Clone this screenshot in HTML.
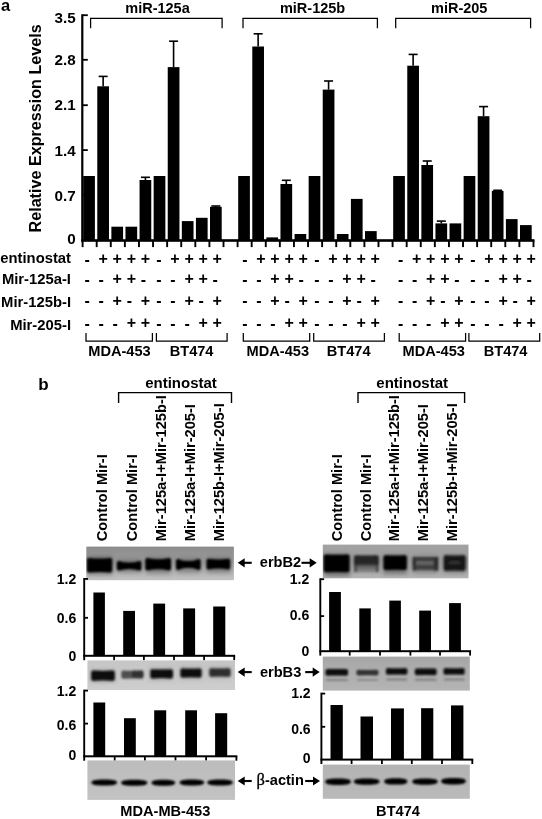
<!DOCTYPE html>
<html><head><meta charset="utf-8"><title>Figure</title>
<style>html,body{margin:0;padding:0;background:#fff}svg{display:block}text{font-family:"Liberation Sans",sans-serif;font-weight:bold;fill:#000}</style>
</head><body>
<svg width="542" height="819" viewBox="0 0 542 819">
<rect width="542" height="819" fill="#fff"/>
<text x="0.9" y="10.9" font-size="16.5" text-anchor="start" >a</text>
<text transform="translate(40.6,128.4) rotate(-90)" font-size="16.15" text-anchor="middle">Relative Expression Levels</text>
<rect x="81.20" y="14.30" width="2.20" height="227.30" fill="#000" />
<rect x="82.30" y="14.30" width="5.50" height="1.80" fill="#000" />
<text x="75.6" y="22.6" font-size="15.2" text-anchor="end" >3.5</text>
<rect x="82.30" y="58.90" width="5.50" height="1.80" fill="#000" />
<text x="75.6" y="64.5" font-size="15.2" text-anchor="end" >2.8</text>
<rect x="82.30" y="104.30" width="5.50" height="1.80" fill="#000" />
<text x="75.6" y="110.0" font-size="15.2" text-anchor="end" >2.1</text>
<rect x="82.30" y="149.20" width="5.50" height="1.80" fill="#000" />
<text x="75.6" y="155.7" font-size="15.2" text-anchor="end" >1.4</text>
<rect x="82.30" y="193.70" width="5.50" height="1.80" fill="#000" />
<text x="75.6" y="201.3" font-size="15.2" text-anchor="end" >0.7</text>
<text x="75.6" y="243.9" font-size="15.2" text-anchor="end" >0</text>
<rect x="81.20" y="239.20" width="453.28" height="2.60" fill="#000" />
<rect x="81.65" y="240.50" width="1.90" height="6.60" fill="#000" />
<rect x="95.74" y="240.50" width="1.90" height="6.60" fill="#000" />
<rect x="109.83" y="240.50" width="1.90" height="6.60" fill="#000" />
<rect x="123.92" y="240.50" width="1.90" height="6.60" fill="#000" />
<rect x="138.01" y="240.50" width="1.90" height="6.60" fill="#000" />
<rect x="152.10" y="240.50" width="1.90" height="6.60" fill="#000" />
<rect x="166.19" y="240.50" width="1.90" height="6.60" fill="#000" />
<rect x="180.28" y="240.50" width="1.90" height="6.60" fill="#000" />
<rect x="194.37" y="240.50" width="1.90" height="6.60" fill="#000" />
<rect x="208.46" y="240.50" width="1.90" height="6.60" fill="#000" />
<rect x="222.55" y="240.50" width="1.90" height="6.60" fill="#000" />
<rect x="236.64" y="240.50" width="1.90" height="6.60" fill="#000" />
<rect x="250.73" y="240.50" width="1.90" height="6.60" fill="#000" />
<rect x="264.82" y="240.50" width="1.90" height="6.60" fill="#000" />
<rect x="278.91" y="240.50" width="1.90" height="6.60" fill="#000" />
<rect x="293.00" y="240.50" width="1.90" height="6.60" fill="#000" />
<rect x="307.09" y="240.50" width="1.90" height="6.60" fill="#000" />
<rect x="321.18" y="240.50" width="1.90" height="6.60" fill="#000" />
<rect x="335.27" y="240.50" width="1.90" height="6.60" fill="#000" />
<rect x="349.36" y="240.50" width="1.90" height="6.60" fill="#000" />
<rect x="363.45" y="240.50" width="1.90" height="6.60" fill="#000" />
<rect x="377.54" y="240.50" width="1.90" height="6.60" fill="#000" />
<rect x="391.63" y="240.50" width="1.90" height="6.60" fill="#000" />
<rect x="405.72" y="240.50" width="1.90" height="6.60" fill="#000" />
<rect x="419.81" y="240.50" width="1.90" height="6.60" fill="#000" />
<rect x="433.90" y="240.50" width="1.90" height="6.60" fill="#000" />
<rect x="447.99" y="240.50" width="1.90" height="6.60" fill="#000" />
<rect x="462.08" y="240.50" width="1.90" height="6.60" fill="#000" />
<rect x="476.17" y="240.50" width="1.90" height="6.60" fill="#000" />
<rect x="490.26" y="240.50" width="1.90" height="6.60" fill="#000" />
<rect x="504.35" y="240.50" width="1.90" height="6.60" fill="#000" />
<rect x="518.44" y="240.50" width="1.90" height="6.60" fill="#000" />
<rect x="532.53" y="240.50" width="1.90" height="6.60" fill="#000" />
<rect x="83.20" y="176.00" width="11.70" height="64.50" fill="#000" />
<rect x="97.29" y="86.30" width="11.70" height="154.20" fill="#000" />
<rect x="102.34" y="76.40" width="1.60" height="9.90" fill="#000" />
<rect x="98.64" y="75.60" width="9.00" height="1.60" fill="#000" />
<rect x="111.38" y="226.70" width="11.70" height="13.80" fill="#000" />
<rect x="125.47" y="226.70" width="11.70" height="13.80" fill="#000" />
<rect x="139.56" y="180.00" width="11.70" height="60.50" fill="#000" />
<rect x="144.61" y="177.30" width="1.60" height="2.70" fill="#000" />
<rect x="140.91" y="176.50" width="9.00" height="1.60" fill="#000" />
<rect x="153.65" y="176.00" width="11.70" height="64.50" fill="#000" />
<rect x="167.74" y="67.10" width="11.70" height="173.40" fill="#000" />
<rect x="172.79" y="41.20" width="1.60" height="25.90" fill="#000" />
<rect x="169.09" y="40.40" width="9.00" height="1.60" fill="#000" />
<rect x="181.83" y="221.10" width="11.70" height="19.40" fill="#000" />
<rect x="195.92" y="217.80" width="11.70" height="22.70" fill="#000" />
<rect x="210.01" y="206.80" width="11.70" height="33.70" fill="#000" />
<rect x="215.06" y="206.00" width="1.60" height="0.80" fill="#000" />
<rect x="211.36" y="205.20" width="9.00" height="1.60" fill="#000" />
<rect x="238.19" y="176.00" width="11.70" height="64.50" fill="#000" />
<rect x="252.28" y="46.50" width="11.70" height="194.00" fill="#000" />
<rect x="257.33" y="33.80" width="1.60" height="12.70" fill="#000" />
<rect x="253.63" y="33.00" width="9.00" height="1.60" fill="#000" />
<rect x="266.37" y="237.40" width="11.70" height="3.10" fill="#000" />
<rect x="280.46" y="184.00" width="11.70" height="56.50" fill="#000" />
<rect x="285.51" y="180.30" width="1.60" height="3.70" fill="#000" />
<rect x="281.81" y="179.50" width="9.00" height="1.60" fill="#000" />
<rect x="294.55" y="234.00" width="11.70" height="6.50" fill="#000" />
<rect x="308.64" y="176.00" width="11.70" height="64.50" fill="#000" />
<rect x="322.73" y="89.60" width="11.70" height="150.90" fill="#000" />
<rect x="327.78" y="81.00" width="1.60" height="8.60" fill="#000" />
<rect x="324.08" y="80.20" width="9.00" height="1.60" fill="#000" />
<rect x="336.82" y="234.00" width="11.70" height="6.50" fill="#000" />
<rect x="350.91" y="198.90" width="11.70" height="41.60" fill="#000" />
<rect x="365.00" y="231.10" width="11.70" height="9.40" fill="#000" />
<rect x="393.18" y="176.00" width="11.70" height="64.50" fill="#000" />
<rect x="407.27" y="65.70" width="11.70" height="174.80" fill="#000" />
<rect x="412.32" y="54.40" width="1.60" height="11.30" fill="#000" />
<rect x="408.62" y="53.60" width="9.00" height="1.60" fill="#000" />
<rect x="421.36" y="165.00" width="11.70" height="75.50" fill="#000" />
<rect x="426.41" y="161.00" width="1.60" height="4.00" fill="#000" />
<rect x="422.71" y="160.20" width="9.00" height="1.60" fill="#000" />
<rect x="435.45" y="223.40" width="11.70" height="17.10" fill="#000" />
<rect x="440.50" y="221.10" width="1.60" height="2.30" fill="#000" />
<rect x="436.80" y="220.30" width="9.00" height="1.60" fill="#000" />
<rect x="449.54" y="223.40" width="11.70" height="17.10" fill="#000" />
<rect x="463.63" y="176.00" width="11.70" height="64.50" fill="#000" />
<rect x="477.72" y="116.20" width="11.70" height="124.30" fill="#000" />
<rect x="482.77" y="106.60" width="1.60" height="9.60" fill="#000" />
<rect x="479.07" y="105.80" width="9.00" height="1.60" fill="#000" />
<rect x="491.81" y="190.90" width="11.70" height="49.60" fill="#000" />
<rect x="496.86" y="190.30" width="1.60" height="0.60" fill="#000" />
<rect x="493.16" y="189.50" width="9.00" height="1.60" fill="#000" />
<rect x="505.90" y="219.10" width="11.70" height="21.40" fill="#000" />
<rect x="519.99" y="225.10" width="11.70" height="15.40" fill="#000" />
<polyline points="90.60,28.30 90.60,18.30 222.10,18.30 222.10,28.30" fill="none" stroke="#000" stroke-width="1.25"/>
<text x="157.5" y="13.3" font-size="14.5" text-anchor="middle" >miR-125a</text>
<polyline points="243.00,28.30 243.00,18.30 377.40,18.30 377.40,28.30" fill="none" stroke="#000" stroke-width="1.25"/>
<text x="312.6" y="13.3" font-size="14.5" text-anchor="middle" >miR-125b</text>
<polyline points="395.70,28.30 395.70,18.30 530.60,18.30 530.60,28.30" fill="none" stroke="#000" stroke-width="1.25"/>
<text x="459.2" y="13.3" font-size="14.5" text-anchor="middle" >miR-205</text>
<text x="71" y="263.1" font-size="14.8" text-anchor="end" >entinostat</text>
<text x="84.40" y="264.9" font-size="16" text-anchor="start" >-</text>
<text x="98.49" y="264.29999999999995" font-size="16" text-anchor="start" >+</text>
<text x="112.58" y="264.29999999999995" font-size="16" text-anchor="start" >+</text>
<text x="126.67" y="264.29999999999995" font-size="16" text-anchor="start" >+</text>
<text x="140.76" y="264.29999999999995" font-size="16" text-anchor="start" >+</text>
<text x="156.25" y="264.9" font-size="16" text-anchor="start" >-</text>
<text x="170.34" y="264.29999999999995" font-size="16" text-anchor="start" >+</text>
<text x="184.43" y="264.29999999999995" font-size="16" text-anchor="start" >+</text>
<text x="198.52" y="264.29999999999995" font-size="16" text-anchor="start" >+</text>
<text x="212.61" y="264.29999999999995" font-size="16" text-anchor="start" >+</text>
<text x="242.19" y="264.9" font-size="16" text-anchor="start" >-</text>
<text x="256.28" y="264.29999999999995" font-size="16" text-anchor="start" >+</text>
<text x="270.37" y="264.29999999999995" font-size="16" text-anchor="start" >+</text>
<text x="284.46" y="264.29999999999995" font-size="16" text-anchor="start" >+</text>
<text x="298.55" y="264.29999999999995" font-size="16" text-anchor="start" >+</text>
<text x="314.14" y="264.9" font-size="16" text-anchor="start" >-</text>
<text x="328.23" y="264.29999999999995" font-size="16" text-anchor="start" >+</text>
<text x="342.32" y="264.29999999999995" font-size="16" text-anchor="start" >+</text>
<text x="356.41" y="264.29999999999995" font-size="16" text-anchor="start" >+</text>
<text x="370.50" y="264.29999999999995" font-size="16" text-anchor="start" >+</text>
<text x="397.88" y="264.9" font-size="16" text-anchor="start" >-</text>
<text x="411.97" y="264.29999999999995" font-size="16" text-anchor="start" >+</text>
<text x="426.06" y="264.29999999999995" font-size="16" text-anchor="start" >+</text>
<text x="440.15" y="264.29999999999995" font-size="16" text-anchor="start" >+</text>
<text x="454.24" y="264.29999999999995" font-size="16" text-anchor="start" >+</text>
<text x="470.23" y="264.9" font-size="16" text-anchor="start" >-</text>
<text x="484.32" y="264.29999999999995" font-size="16" text-anchor="start" >+</text>
<text x="498.41" y="264.29999999999995" font-size="16" text-anchor="start" >+</text>
<text x="512.50" y="264.29999999999995" font-size="16" text-anchor="start" >+</text>
<text x="526.59" y="264.29999999999995" font-size="16" text-anchor="start" >+</text>
<text x="71" y="284.4" font-size="14.8" text-anchor="end" >Mir-125a-I</text>
<text x="84.40" y="285.0" font-size="16" text-anchor="start" >-</text>
<text x="98.49" y="285.0" font-size="16" text-anchor="start" >-</text>
<text x="112.58" y="284.4" font-size="16" text-anchor="start" >+</text>
<text x="126.67" y="284.4" font-size="16" text-anchor="start" >+</text>
<text x="140.76" y="285.0" font-size="16" text-anchor="start" >-</text>
<text x="156.25" y="285.0" font-size="16" text-anchor="start" >-</text>
<text x="170.34" y="285.0" font-size="16" text-anchor="start" >-</text>
<text x="184.43" y="284.4" font-size="16" text-anchor="start" >+</text>
<text x="198.52" y="284.4" font-size="16" text-anchor="start" >+</text>
<text x="212.61" y="285.0" font-size="16" text-anchor="start" >-</text>
<text x="242.19" y="285.0" font-size="16" text-anchor="start" >-</text>
<text x="256.28" y="285.0" font-size="16" text-anchor="start" >-</text>
<text x="270.37" y="284.4" font-size="16" text-anchor="start" >+</text>
<text x="284.46" y="284.4" font-size="16" text-anchor="start" >+</text>
<text x="298.55" y="285.0" font-size="16" text-anchor="start" >-</text>
<text x="314.14" y="285.0" font-size="16" text-anchor="start" >-</text>
<text x="328.23" y="285.0" font-size="16" text-anchor="start" >-</text>
<text x="342.32" y="284.4" font-size="16" text-anchor="start" >+</text>
<text x="356.41" y="284.4" font-size="16" text-anchor="start" >+</text>
<text x="370.50" y="285.0" font-size="16" text-anchor="start" >-</text>
<text x="397.88" y="285.0" font-size="16" text-anchor="start" >-</text>
<text x="411.97" y="285.0" font-size="16" text-anchor="start" >-</text>
<text x="426.06" y="284.4" font-size="16" text-anchor="start" >+</text>
<text x="440.15" y="284.4" font-size="16" text-anchor="start" >+</text>
<text x="454.24" y="285.0" font-size="16" text-anchor="start" >-</text>
<text x="470.23" y="285.0" font-size="16" text-anchor="start" >-</text>
<text x="484.32" y="285.0" font-size="16" text-anchor="start" >-</text>
<text x="498.41" y="284.4" font-size="16" text-anchor="start" >+</text>
<text x="512.50" y="284.4" font-size="16" text-anchor="start" >+</text>
<text x="526.59" y="285.0" font-size="16" text-anchor="start" >-</text>
<text x="71" y="307.2" font-size="14.8" text-anchor="end" >Mir-125b-I</text>
<text x="84.40" y="306.3" font-size="16" text-anchor="start" >-</text>
<text x="98.49" y="306.3" font-size="16" text-anchor="start" >-</text>
<text x="112.58" y="305.7" font-size="16" text-anchor="start" >+</text>
<text x="126.67" y="306.3" font-size="16" text-anchor="start" >-</text>
<text x="140.76" y="305.7" font-size="16" text-anchor="start" >+</text>
<text x="156.25" y="306.3" font-size="16" text-anchor="start" >-</text>
<text x="170.34" y="306.3" font-size="16" text-anchor="start" >-</text>
<text x="184.43" y="305.7" font-size="16" text-anchor="start" >+</text>
<text x="198.52" y="306.3" font-size="16" text-anchor="start" >-</text>
<text x="212.61" y="305.7" font-size="16" text-anchor="start" >+</text>
<text x="242.19" y="306.3" font-size="16" text-anchor="start" >-</text>
<text x="256.28" y="306.3" font-size="16" text-anchor="start" >-</text>
<text x="270.37" y="305.7" font-size="16" text-anchor="start" >+</text>
<text x="284.46" y="306.3" font-size="16" text-anchor="start" >-</text>
<text x="298.55" y="305.7" font-size="16" text-anchor="start" >+</text>
<text x="314.14" y="306.3" font-size="16" text-anchor="start" >-</text>
<text x="328.23" y="306.3" font-size="16" text-anchor="start" >-</text>
<text x="342.32" y="305.7" font-size="16" text-anchor="start" >+</text>
<text x="356.41" y="306.3" font-size="16" text-anchor="start" >-</text>
<text x="370.50" y="305.7" font-size="16" text-anchor="start" >+</text>
<text x="397.88" y="306.3" font-size="16" text-anchor="start" >-</text>
<text x="411.97" y="306.3" font-size="16" text-anchor="start" >-</text>
<text x="426.06" y="305.7" font-size="16" text-anchor="start" >+</text>
<text x="440.15" y="306.3" font-size="16" text-anchor="start" >-</text>
<text x="454.24" y="305.7" font-size="16" text-anchor="start" >+</text>
<text x="470.23" y="306.3" font-size="16" text-anchor="start" >-</text>
<text x="484.32" y="306.3" font-size="16" text-anchor="start" >-</text>
<text x="498.41" y="305.7" font-size="16" text-anchor="start" >+</text>
<text x="512.50" y="306.3" font-size="16" text-anchor="start" >-</text>
<text x="526.59" y="305.7" font-size="16" text-anchor="start" >+</text>
<text x="71" y="329.6" font-size="14.8" text-anchor="end" >Mir-205-I</text>
<text x="84.40" y="328.9" font-size="16" text-anchor="start" >-</text>
<text x="98.49" y="328.9" font-size="16" text-anchor="start" >-</text>
<text x="112.58" y="328.9" font-size="16" text-anchor="start" >-</text>
<text x="126.67" y="328.29999999999995" font-size="16" text-anchor="start" >+</text>
<text x="140.76" y="328.29999999999995" font-size="16" text-anchor="start" >+</text>
<text x="156.25" y="328.9" font-size="16" text-anchor="start" >-</text>
<text x="170.34" y="328.9" font-size="16" text-anchor="start" >-</text>
<text x="184.43" y="328.9" font-size="16" text-anchor="start" >-</text>
<text x="198.52" y="328.29999999999995" font-size="16" text-anchor="start" >+</text>
<text x="212.61" y="328.29999999999995" font-size="16" text-anchor="start" >+</text>
<text x="242.19" y="328.9" font-size="16" text-anchor="start" >-</text>
<text x="256.28" y="328.9" font-size="16" text-anchor="start" >-</text>
<text x="270.37" y="328.9" font-size="16" text-anchor="start" >-</text>
<text x="284.46" y="328.29999999999995" font-size="16" text-anchor="start" >+</text>
<text x="298.55" y="328.29999999999995" font-size="16" text-anchor="start" >+</text>
<text x="314.14" y="328.9" font-size="16" text-anchor="start" >-</text>
<text x="328.23" y="328.9" font-size="16" text-anchor="start" >-</text>
<text x="342.32" y="328.9" font-size="16" text-anchor="start" >-</text>
<text x="356.41" y="328.29999999999995" font-size="16" text-anchor="start" >+</text>
<text x="370.50" y="328.29999999999995" font-size="16" text-anchor="start" >+</text>
<text x="397.88" y="328.9" font-size="16" text-anchor="start" >-</text>
<text x="411.97" y="328.9" font-size="16" text-anchor="start" >-</text>
<text x="426.06" y="328.9" font-size="16" text-anchor="start" >-</text>
<text x="440.15" y="328.29999999999995" font-size="16" text-anchor="start" >+</text>
<text x="454.24" y="328.29999999999995" font-size="16" text-anchor="start" >+</text>
<text x="470.23" y="328.9" font-size="16" text-anchor="start" >-</text>
<text x="484.32" y="328.9" font-size="16" text-anchor="start" >-</text>
<text x="498.41" y="328.9" font-size="16" text-anchor="start" >-</text>
<text x="512.50" y="328.29999999999995" font-size="16" text-anchor="start" >+</text>
<text x="526.59" y="328.29999999999995" font-size="16" text-anchor="start" >+</text>
<polyline points="86.00,333.00 86.00,341.00 152.40,341.00 152.40,333.00" fill="none" stroke="#000" stroke-width="1.25"/>
<polyline points="156.40,333.00 156.40,341.00 227.10,341.00 227.10,333.00" fill="none" stroke="#000" stroke-width="1.25"/>
<text x="119.5" y="355.6" font-size="14.6" text-anchor="middle" >MDA-453</text>
<text x="191.6" y="355.6" font-size="14.6" text-anchor="middle" >BT474</text>
<polyline points="243.30,333.00 243.30,341.00 309.70,341.00 309.70,333.00" fill="none" stroke="#000" stroke-width="1.25"/>
<polyline points="313.70,333.00 313.70,341.00 384.40,341.00 384.40,333.00" fill="none" stroke="#000" stroke-width="1.25"/>
<text x="277.8" y="355.6" font-size="14.6" text-anchor="middle" >MDA-453</text>
<text x="348.7" y="355.6" font-size="14.6" text-anchor="middle" >BT474</text>
<polyline points="399.20,333.00 399.20,341.00 465.60,341.00 465.60,333.00" fill="none" stroke="#000" stroke-width="1.25"/>
<polyline points="468.90,333.00 468.90,341.00 539.70,341.00 539.70,333.00" fill="none" stroke="#000" stroke-width="1.25"/>
<text x="433.7" y="355.6" font-size="14.6" text-anchor="middle" >MDA-453</text>
<text x="505.6" y="355.6" font-size="14.6" text-anchor="middle" >BT474</text>
<text x="38.2" y="389.9" font-size="17" text-anchor="start" >b</text>
<defs><filter id="blur" x="-20%" y="-60%" width="140%" height="220%"><feGaussianBlur stdDeviation="1.2"/></filter><filter id="blur2" x="-20%" y="-60%" width="140%" height="220%"><feGaussianBlur stdDeviation="0.85"/></filter><filter id="blur3" x="-30%" y="-80%" width="160%" height="260%"><feGaussianBlur stdDeviation="2.2"/></filter></defs>
<text transform="translate(107.3,541.2) rotate(-90)" font-size="14.65">Control Mir-I</text>
<text transform="translate(137.4,541.2) rotate(-90)" font-size="14.65">Control Mir-I</text>
<text transform="translate(165.6,541.2) rotate(-90)" font-size="14.65">Mir-125a-I+Mir-125b-I</text>
<text transform="translate(195.4,541.2) rotate(-90)" font-size="14.65">Mir-125a-I+Mir-205-I</text>
<text transform="translate(224.3,541.2) rotate(-90)" font-size="14.65">Mir-125b-I+Mir-205-I</text>
<text x="181" y="387.9" font-size="15" text-anchor="middle" >entinostat</text>
<polyline points="118.60,402.90 118.60,392.60 231.50,392.60 231.50,402.90" fill="none" stroke="#000" stroke-width="1.4"/>
<defs><linearGradient id="bgl1" x1="0" y1="0" x2="0" y2="1"><stop offset="0" stop-color="#8c8c8c"/><stop offset="0.45" stop-color="#9c9c9c"/><stop offset="0.8" stop-color="#bababa"/><stop offset="1" stop-color="#c2c2c2"/></linearGradient><clipPath id="cpl1"><rect x="86.3" y="546.6" width="147.6" height="33.6"/></clipPath></defs>
<rect x="86.30" y="546.60" width="147.60" height="33.60" fill="url(#bgl1)" />
<g clip-path="url(#cpl1)">
<g filter="url(#blur3)">
<rect x="87.0" y="556.0" width="26.0" height="19.0" fill="#555" opacity="0.55"/>
<rect x="117.0" y="559.0" width="25.0" height="14.0" fill="#555" opacity="0.45"/>
<rect x="146.0" y="557.0" width="25.0" height="17.0" fill="#555" opacity="0.5"/>
<rect x="176.0" y="558.0" width="25.0" height="15.0" fill="#555" opacity="0.45"/>
<rect x="206.5" y="557.0" width="24.5" height="16.0" fill="#555" opacity="0.5"/>
</g>
<g filter="url(#blur)">
<path d="M88.9,558.0 Q99.6,559.2 110.2,558.0 Q112.2,558.0 112.2,560.0 L112.2,570.6 Q112.2,572.6 110.2,572.6 Q99.6,571.4 88.9,572.6 Q86.9,572.6 86.9,570.6 L86.9,560.0 Q86.9,558.0 88.9,558.0Z" fill="#000" opacity="1"/>
<path d="M118.8,561.0 Q129.1,564.0 139.4,561.0 Q141.4,561.0 141.4,563.0 L141.4,568.6 Q141.4,570.6 139.4,570.6 Q129.1,567.6 118.8,570.6 Q116.8,570.6 116.8,568.6 L116.8,563.0 Q116.8,561.0 118.8,561.0Z" fill="#000" opacity="1"/>
<path d="M147.3,558.1 Q158.2,560.5 169.0,558.1 Q171.0,558.1 171.0,560.1 L171.0,568.5 Q171.0,570.5 169.0,570.5 Q158.2,568.1 147.3,570.5 Q145.3,570.5 145.3,568.5 L145.3,560.1 Q145.3,558.1 147.3,558.1Z" fill="#000" opacity="1"/>
<path d="M178.0,558.9 Q188.3,563.3 198.6,558.9 Q200.6,558.9 200.6,560.9 L200.6,567.9 Q200.6,569.9 198.6,569.9 Q188.3,565.5 178.0,569.9 Q176.0,569.9 176.0,567.9 L176.0,560.9 Q176.0,558.9 178.0,558.9Z" fill="#000" opacity="1"/>
<path d="M208.5,558.8 Q218.3,560.4 228.2,558.8 Q230.2,558.8 230.2,560.8 L230.2,567.4 Q230.2,569.4 228.2,569.4 Q218.3,567.8 208.5,569.4 Q206.5,569.4 206.5,567.4 L206.5,560.8 Q206.5,558.8 208.5,558.8Z" fill="#000" opacity="1"/>
</g>
</g>
<rect x="83.25" y="578.00" width="1.90" height="82.20" fill="#000" />
<rect x="83.25" y="654.80" width="151.90" height="2.00" fill="#000" />
<rect x="84.20" y="578.00" width="3.80" height="1.80" fill="#000" />
<rect x="84.20" y="616.90" width="3.80" height="1.80" fill="#000" />
<rect x="113.20" y="655.80" width="1.80" height="4.40" fill="#000" />
<rect x="143.00" y="655.80" width="1.80" height="4.40" fill="#000" />
<rect x="173.10" y="655.80" width="1.80" height="4.40" fill="#000" />
<rect x="203.20" y="655.80" width="1.80" height="4.40" fill="#000" />
<rect x="233.30" y="655.80" width="1.80" height="4.40" fill="#000" />
<text x="76.3" y="583.9" font-size="14" text-anchor="end" >1.2</text>
<text x="76.3" y="623.0" font-size="14" text-anchor="end" >0.6</text>
<text x="76.3" y="660.7" font-size="14" text-anchor="end" >0</text>
<rect x="93.40" y="592.50" width="11.50" height="63.30" fill="#000" />
<rect x="123.20" y="610.90" width="11.80" height="44.90" fill="#000" />
<rect x="153.30" y="603.60" width="11.80" height="52.20" fill="#000" />
<rect x="183.20" y="608.40" width="11.90" height="47.40" fill="#000" />
<rect x="213.20" y="606.50" width="12.10" height="49.30" fill="#000" />
<defs><linearGradient id="bgl2" x1="0" y1="0" x2="0" y2="1"><stop offset="0" stop-color="#c6c6c6"/><stop offset="1" stop-color="#cecece"/></linearGradient><clipPath id="cpl2"><rect x="87.4" y="660.4" width="147.6" height="29.6"/></clipPath></defs>
<rect x="87.40" y="660.40" width="147.60" height="29.60" fill="url(#bgl2)" />
<g clip-path="url(#cpl2)">
<g filter="url(#blur3)">
<rect x="91.0" y="670.0" width="24.0" height="12.0" fill="#666" opacity="0.4"/>
<rect x="150.0" y="668.0" width="23.0" height="12.0" fill="#666" opacity="0.35"/>
<rect x="180.0" y="667.0" width="22.0" height="12.0" fill="#666" opacity="0.35"/>
<rect x="209.0" y="667.0" width="22.0" height="11.0" fill="#666" opacity="0.3"/>
</g>
<g filter="url(#blur)">
<path d="M93.2,670.5 Q103.0,671.3 112.8,670.5 Q114.8,670.5 114.8,672.5 L114.8,678.7 Q114.8,680.7 112.8,680.7 Q103.0,679.9 93.2,680.7 Q91.2,680.7 91.2,678.7 L91.2,672.5 Q91.2,670.5 93.2,670.5Z" fill="#0a0a0a" opacity="1"/>
<path d="M123.3,670.4 Q132.4,671.0 141.5,670.4 Q143.5,670.4 143.5,672.4 L143.5,676.8 Q143.5,678.8 141.5,678.8 Q132.4,678.2 123.3,678.8 Q121.3,678.8 121.3,676.8 L121.3,672.4 Q121.3,670.4 123.3,670.4Z" fill="#3a3a3a" opacity="0.85"/>
<path d="M134.0,670.3 Q137.8,670.7 141.5,670.3 Q143.5,670.3 143.5,672.3 L143.5,675.7 Q143.5,677.7 141.5,677.7 Q137.8,677.3 134.0,677.7 Q132.0,677.7 132.0,675.7 L132.0,672.3 Q132.0,670.3 134.0,670.3Z" fill="#222" opacity="0.6"/>
<path d="M152.3,669.2 Q161.7,669.8 171.0,669.2 Q173.0,669.2 173.0,671.2 L173.0,676.4 Q173.0,678.4 171.0,678.4 Q161.7,677.8 152.3,678.4 Q150.3,678.4 150.3,676.4 L150.3,671.2 Q150.3,669.2 152.3,669.2Z" fill="#0c0c0c" opacity="1"/>
<path d="M182.4,668.4 Q191.0,669.0 199.6,668.4 Q201.6,668.4 201.6,670.4 L201.6,675.6 Q201.6,677.6 199.6,677.6 Q191.0,677.0 182.4,677.6 Q180.4,677.6 180.4,675.6 L180.4,670.4 Q180.4,668.4 182.4,668.4Z" fill="#0c0c0c" opacity="1"/>
<path d="M211.3,668.3 Q219.9,668.9 228.6,668.3 Q230.6,668.3 230.6,670.3 L230.6,674.7 Q230.6,676.7 228.6,676.7 Q219.9,676.1 211.3,676.7 Q209.3,676.7 209.3,674.7 L209.3,670.3 Q209.3,668.3 211.3,668.3Z" fill="#262626" opacity="0.95"/>
</g>
</g>
<rect x="83.25" y="689.70" width="1.90" height="71.00" fill="#000" />
<rect x="83.25" y="755.30" width="154.10" height="2.00" fill="#000" />
<rect x="84.20" y="689.70" width="3.80" height="1.80" fill="#000" />
<rect x="84.20" y="722.70" width="3.80" height="1.80" fill="#000" />
<rect x="113.80" y="756.30" width="1.80" height="4.40" fill="#000" />
<rect x="144.00" y="756.30" width="1.80" height="4.40" fill="#000" />
<rect x="174.60" y="756.30" width="1.80" height="4.40" fill="#000" />
<rect x="205.20" y="756.30" width="1.80" height="4.40" fill="#000" />
<rect x="235.50" y="756.30" width="1.80" height="4.40" fill="#000" />
<text x="76.3" y="695.7" font-size="14" text-anchor="end" >1.2</text>
<text x="76.3" y="730.1" font-size="14" text-anchor="end" >0.6</text>
<text x="76.3" y="759.8" font-size="14" text-anchor="end" >0</text>
<rect x="93.40" y="702.50" width="11.80" height="53.80" fill="#000" />
<rect x="124.00" y="718.20" width="11.80" height="38.10" fill="#000" />
<rect x="154.20" y="710.30" width="12.00" height="46.00" fill="#000" />
<rect x="185.20" y="710.30" width="11.80" height="46.00" fill="#000" />
<rect x="215.10" y="713.20" width="12.10" height="43.10" fill="#000" />
<defs><linearGradient id="bgl3" x1="0" y1="0" x2="0" y2="1"><stop offset="0" stop-color="#bcbcbc"/><stop offset="1" stop-color="#c3c3c3"/></linearGradient><clipPath id="cpl3"><rect x="87.4" y="760.4" width="147.6" height="39.5"/></clipPath></defs>
<rect x="87.40" y="760.40" width="147.60" height="39.50" fill="url(#bgl3)" />
<g clip-path="url(#cpl3)">
<g filter="url(#blur2)">
<path d="M91.3,782.5 C91.8,779.5 99.1,779.5 104.2,779.5 S116.7,779.5 117.2,782.5 C116.7,785.5 109.4,785.5 104.2,785.5 S91.8,785.5 91.3,782.5Z" fill="#000" opacity="1"/>
<path d="M121.0,782.8 C121.5,779.8 128.9,779.8 134.2,779.8 S147.0,779.8 147.5,782.8 C147.0,785.8 139.6,785.8 134.2,785.8 S121.5,785.8 121.0,782.8Z" fill="#000" opacity="1"/>
<path d="M151.4,782.8 C151.9,779.8 158.6,779.8 163.4,779.8 S174.8,779.8 175.3,782.8 C174.8,785.8 168.1,785.8 163.4,785.8 S151.9,785.8 151.4,782.8Z" fill="#000" opacity="1"/>
<path d="M179.5,782.5 C180.0,779.5 186.9,779.5 191.9,779.5 S203.8,779.5 204.3,782.5 C203.8,785.5 196.9,785.5 191.9,785.5 S180.0,785.5 179.5,782.5Z" fill="#000" opacity="1"/>
<path d="M207.2,782.5 C207.7,779.5 214.9,779.5 220.1,779.5 S232.4,779.5 232.9,782.5 C232.4,785.5 225.2,785.5 220.1,785.5 S207.7,785.5 207.2,782.5Z" fill="#000" opacity="1"/>
</g>
</g>
<text x="165.3" y="815.7" font-size="14.6" text-anchor="middle" >MDA-MB-453</text>
<rect x="240.70" y="561.75" width="11.00" height="2.10" fill="#000" />
<polygon points="237.7,562.8 244.7,558.1999999999999 244.7,567.4" fill="#000"/>
<text x="259.8" y="567" font-size="14.6" text-anchor="start" >erbB2</text>
<rect x="301.50" y="561.75" width="12.20" height="2.10" fill="#000" />
<polygon points="316.7,562.8 309.7,558.1999999999999 309.7,567.4" fill="#000"/>
<rect x="240.70" y="671.05" width="11.00" height="2.10" fill="#000" />
<polygon points="237.7,672.1 244.7,667.5 244.7,676.7" fill="#000"/>
<text x="259.9" y="677" font-size="14.6" text-anchor="start" >erbB3</text>
<rect x="305.20" y="671.05" width="11.50" height="2.10" fill="#000" />
<polygon points="319.7,672.1 312.7,667.5 312.7,676.7" fill="#000"/>
<rect x="240.70" y="779.95" width="11.00" height="2.10" fill="#000" />
<polygon points="237.7,781 244.7,776.4 244.7,785.6" fill="#000"/>
<text x="256.5" y="785.4" font-size="14.6"><tspan font-family="Liberation Serif, serif" font-size="16.5" font-weight="normal" stroke="#000" stroke-width="0.35">β</tspan>-actin</text>
<rect x="305.20" y="779.95" width="11.80" height="2.10" fill="#000" />
<polygon points="320,781 313,776.4 313,785.6" fill="#000"/>
<text transform="translate(342.3,541.2) rotate(-90)" font-size="14.65">Control Mir-I</text>
<text transform="translate(370.5,541.2) rotate(-90)" font-size="14.65">Control Mir-I</text>
<text transform="translate(398.8,541.2) rotate(-90)" font-size="14.65">Mir-125a-I+Mir-125b-I</text>
<text transform="translate(427.9,541.2) rotate(-90)" font-size="14.65">Mir-125a-I+Mir-205-I</text>
<text transform="translate(457.1,541.2) rotate(-90)" font-size="14.65">Mir-125b-I+Mir-205-I</text>
<text x="412.2" y="387.9" font-size="15" text-anchor="middle" >entinostat</text>
<polyline points="358.00,402.90 358.00,392.60 464.60,392.60 464.60,402.90" fill="none" stroke="#000" stroke-width="1.4"/>
<defs><linearGradient id="bgr1" x1="0" y1="0" x2="0" y2="1"><stop offset="0" stop-color="#a2a2a2"/><stop offset="0.5" stop-color="#a0a0a0"/><stop offset="1" stop-color="#b4b4b4"/></linearGradient><clipPath id="cpr1"><rect x="322.8" y="544.6" width="145.7" height="33.7"/></clipPath></defs>
<rect x="322.80" y="544.60" width="145.70" height="33.70" fill="url(#bgr1)" />
<g clip-path="url(#cpr1)">
<g filter="url(#blur3)">
<rect x="324.0" y="554.0" width="26.0" height="22.0" fill="#444" opacity="0.6"/>
<rect x="355.0" y="556.0" width="23.0" height="10.0" fill="#555" opacity="0.5"/>
<rect x="383.5" y="555.0" width="23.5" height="19.0" fill="#444" opacity="0.55"/>
<rect x="413.0" y="556.0" width="25.0" height="17.0" fill="#555" opacity="0.45"/>
<rect x="443.5" y="555.0" width="22.5" height="18.0" fill="#555" opacity="0.5"/>
</g>
<g filter="url(#blur)">
<path d="M325.7,554.5 Q336.6,555.1 347.5,554.5 Q349.5,554.5 349.5,556.5 L349.5,570.3 Q349.5,572.3 347.5,572.3 Q336.6,571.7 325.7,572.3 Q323.7,572.3 323.7,570.3 L323.7,556.5 Q323.7,554.5 325.7,554.5Z" fill="#000" opacity="1"/>
<defs><linearGradient id="sgr13543" x1="0" y1="0" x2="0" y2="1"><stop offset="0" stop-color="#3a3a3a" stop-opacity="0.8"/><stop offset="1" stop-color="#3a3a3a" stop-opacity="0.3"/></linearGradient></defs>
<rect x="354.3" y="562.0" width="24.1" height="10.5" fill="url(#sgr13543)"/>
<rect x="354.0" y="560.0" width="2.8" height="12.0" fill="#2a2a2a" opacity="0.6"/>
<rect x="376.0" y="560.0" width="2.7" height="12.0" fill="#2a2a2a" opacity="0.6"/>
<path d="M356.0,555.3 Q366.4,555.7 376.7,555.3 Q378.7,555.3 378.7,557.3 L378.7,562.7 Q378.7,564.7 376.7,564.7 Q366.4,564.3 356.0,564.7 Q354.0,564.7 354.0,562.7 L354.0,557.3 Q354.0,555.3 356.0,555.3Z" fill="#242424" opacity="0.97"/>
<path d="M385.5,555.2 Q395.1,555.8 404.8,555.2 Q406.8,555.2 406.8,557.2 L406.8,568.0 Q406.8,570.0 404.8,570.0 Q395.1,569.4 385.5,570.0 Q383.5,570.0 383.5,568.0 L383.5,557.2 Q383.5,555.2 385.5,555.2Z" fill="#050505" opacity="1"/>
<rect x="412.7" y="557.0" width="3.3" height="13.5" fill="#1c1c1c" opacity="0.9"/>
<rect x="433.5" y="557.0" width="4.6" height="13.5" fill="#1c1c1c" opacity="0.9"/>
<rect x="414.0" y="557.0" width="22.0" height="4.2" fill="#333" opacity="0.9"/>
<rect x="414.0" y="564.8" width="22.0" height="5.0" fill="#383838" opacity="0.9"/>
<rect x="416.0" y="561.0" width="18.0" height="4.0" fill="#5a5a5a" opacity="0.7"/>
<path d="M445.7,555.3 Q454.6,555.9 463.6,555.3 Q465.6,555.3 465.6,557.3 L465.6,568.7 Q465.6,570.7 463.6,570.7 Q454.6,570.1 445.7,570.7 Q443.7,570.7 443.7,568.7 L443.7,557.3 Q443.7,555.3 445.7,555.3Z" fill="#161616" opacity="1"/>
<rect x="449.0" y="561.4" width="11.0" height="2.6" fill="#555" opacity="0.5"/>
</g>
</g>
<rect x="319.35" y="578.30" width="1.90" height="77.30" fill="#000" />
<rect x="319.35" y="650.20" width="151.70" height="2.00" fill="#000" />
<rect x="320.30" y="578.30" width="3.80" height="1.80" fill="#000" />
<rect x="320.30" y="615.20" width="3.80" height="1.80" fill="#000" />
<rect x="348.80" y="651.20" width="1.80" height="4.40" fill="#000" />
<rect x="379.10" y="651.20" width="1.80" height="4.40" fill="#000" />
<rect x="409.50" y="651.20" width="1.80" height="4.40" fill="#000" />
<rect x="439.10" y="651.20" width="1.80" height="4.40" fill="#000" />
<rect x="469.20" y="651.20" width="1.80" height="4.40" fill="#000" />
<text x="309.2" y="583.9" font-size="14" text-anchor="end" >1.2</text>
<text x="309.2" y="620" font-size="14" text-anchor="end" >0.6</text>
<text x="309.2" y="655.9" font-size="14" text-anchor="end" >0</text>
<rect x="329.10" y="592.00" width="11.80" height="59.20" fill="#000" />
<rect x="359.30" y="608.40" width="11.50" height="42.80" fill="#000" />
<rect x="389.30" y="600.60" width="11.60" height="50.60" fill="#000" />
<rect x="419.20" y="610.60" width="11.80" height="40.60" fill="#000" />
<rect x="449.10" y="603.10" width="11.80" height="48.10" fill="#000" />
<defs><linearGradient id="bgr2" x1="0" y1="0" x2="0" y2="1"><stop offset="0" stop-color="#a6a6a6"/><stop offset="0.4" stop-color="#adadad"/><stop offset="1" stop-color="#b4b4b4"/></linearGradient><clipPath id="cpr2"><rect x="322.8" y="656.6" width="147" height="34"/></clipPath></defs>
<rect x="322.80" y="656.60" width="147.00" height="34.00" fill="url(#bgr2)" />
<g clip-path="url(#cpr2)">
<g filter="url(#blur2)">
<path d="M327.4,668.9 Q336.8,669.3 346.1,668.9 Q348.1,668.9 348.1,670.9 L348.1,673.7 Q348.1,675.7 346.1,675.7 Q336.8,675.3 327.4,675.7 Q325.4,675.7 325.4,673.7 L325.4,670.9 Q325.4,668.9 327.4,668.9Z" fill="#0c0c0c" opacity="1"/>
<path d="M358.4,669.7 Q367.4,670.1 376.5,669.7 Q378.5,669.7 378.5,671.7 L378.5,673.5 Q378.5,675.5 376.5,675.5 Q367.4,675.1 358.4,675.5 Q356.4,675.5 356.4,673.5 L356.4,671.7 Q356.4,669.7 358.4,669.7Z" fill="#2a2a2a" opacity="0.95"/>
<path d="M387.9,668.0 Q396.6,668.4 405.4,668.0 Q407.4,668.0 407.4,670.0 L407.4,672.8 Q407.4,674.8 405.4,674.8 Q396.6,674.4 387.9,674.8 Q385.9,674.8 385.9,672.8 L385.9,670.0 Q385.9,668.0 387.9,668.0Z" fill="#0c0c0c" opacity="1"/>
<path d="M416.8,668.4 Q425.8,668.8 434.7,668.4 Q436.7,668.4 436.7,670.4 L436.7,673.2 Q436.7,675.2 434.7,675.2 Q425.8,674.8 416.8,675.2 Q414.8,675.2 414.8,673.2 L414.8,670.4 Q414.8,668.4 416.8,668.4Z" fill="#0c0c0c" opacity="1"/>
<path d="M445.5,668.0 Q454.1,668.4 462.7,668.0 Q464.7,668.0 464.7,670.0 L464.7,672.8 Q464.7,674.8 462.7,674.8 Q454.1,674.4 445.5,674.8 Q443.5,674.8 443.5,672.8 L443.5,670.0 Q443.5,668.0 445.5,668.0Z" fill="#0c0c0c" opacity="1"/>
<rect x="326.0" y="678.8" width="22.0" height="2.2" fill="#555" opacity="0.5"/>
<rect x="357.0" y="679.0" width="21.0" height="2.0" fill="#555" opacity="0.4"/>
<rect x="386.5" y="678.4" width="20.5" height="2.2" fill="#555" opacity="0.5"/>
<rect x="415.0" y="678.6" width="21.5" height="2.2" fill="#555" opacity="0.5"/>
<rect x="444.0" y="678.4" width="20.5" height="2.2" fill="#555" opacity="0.5"/>
</g>
</g>
<rect x="320.45" y="692.70" width="1.90" height="71.30" fill="#000" />
<rect x="320.45" y="758.60" width="152.80" height="2.00" fill="#000" />
<rect x="321.40" y="692.70" width="3.80" height="1.80" fill="#000" />
<rect x="321.40" y="725.90" width="3.80" height="1.80" fill="#000" />
<rect x="350.70" y="759.60" width="1.80" height="4.40" fill="#000" />
<rect x="381.00" y="759.60" width="1.80" height="4.40" fill="#000" />
<rect x="410.90" y="759.60" width="1.80" height="4.40" fill="#000" />
<rect x="441.10" y="759.60" width="1.80" height="4.40" fill="#000" />
<rect x="471.40" y="759.60" width="1.80" height="4.40" fill="#000" />
<text x="310.6" y="697.8" font-size="14" text-anchor="end" >1.2</text>
<text x="310.6" y="733.5" font-size="14" text-anchor="end" >0.6</text>
<text x="310.6" y="762.7" font-size="14" text-anchor="end" >0</text>
<rect x="330.50" y="705.00" width="12.30" height="54.60" fill="#000" />
<rect x="360.50" y="716.50" width="12.50" height="43.10" fill="#000" />
<rect x="391.00" y="708.40" width="12.90" height="51.20" fill="#000" />
<rect x="421.10" y="708.20" width="12.20" height="51.40" fill="#000" />
<rect x="451.00" y="705.40" width="12.40" height="54.20" fill="#000" />
<defs><linearGradient id="bgr3" x1="0" y1="0" x2="0" y2="1"><stop offset="0" stop-color="#b3b3b3"/><stop offset="1" stop-color="#bababa"/></linearGradient><clipPath id="cpr3"><rect x="322.8" y="764.6" width="147" height="34.2"/></clipPath></defs>
<rect x="322.80" y="764.60" width="147.00" height="34.20" fill="url(#bgr3)" />
<g clip-path="url(#cpr3)">
<g filter="url(#blur2)">
<path d="M325.0,781.8 C325.5,778.6 332.8,778.6 338.0,778.6 S350.5,778.6 351.0,781.8 C350.5,785.0 343.2,785.0 338.0,785.0 S325.5,785.0 325.0,781.8Z" fill="#000" opacity="1"/>
<path d="M353.6,781.6 C354.1,778.4 361.5,778.4 366.7,778.4 S379.3,778.4 379.8,781.6 C379.3,784.8 371.9,784.8 366.7,784.8 S354.1,784.8 353.6,781.6Z" fill="#000" opacity="1"/>
<path d="M384.0,781.4 C384.5,778.2 391.1,778.2 395.8,778.2 S407.0,778.2 407.5,781.4 C407.0,784.6 400.4,784.6 395.8,784.6 S384.5,784.6 384.0,781.4Z" fill="#000" opacity="1"/>
<path d="M412.0,781.6 C412.5,778.4 419.8,778.4 425.0,778.4 S437.5,778.4 438.0,781.6 C437.5,784.8 430.2,784.8 425.0,784.8 S412.5,784.8 412.0,781.6Z" fill="#000" opacity="1"/>
<path d="M441.0,781.2 C441.5,778.0 448.5,778.0 453.5,778.0 S465.5,778.0 466.0,781.2 C465.5,784.4 458.5,784.4 453.5,784.4 S441.5,784.4 441.0,781.2Z" fill="#000" opacity="1"/>
</g>
</g>
<text x="398" y="815.7" font-size="14.6" text-anchor="middle" >BT474</text>

</svg>
</body></html>
